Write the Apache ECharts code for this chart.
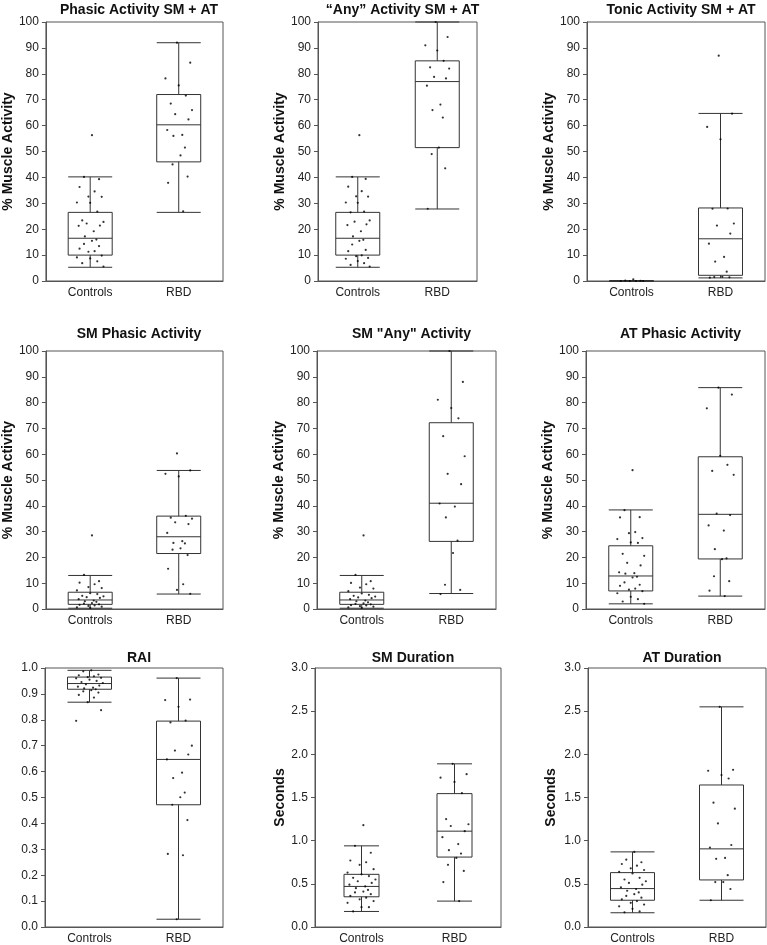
<!DOCTYPE html>
<html>
<head>
<meta charset="utf-8">
<script src="https://cdn.jsdelivr.net/npm/echarts@6/dist/echarts.min.js"></script>
<style>
html,body{margin:0;padding:0;background:#fff;}
#c{width:767px;height:945px;}
</style>
</head>
<body>
<div id="c"></div>
<script>
// ---------- DATA ----------
const categories = ['Controls', 'RBD'];

const titles = ['Phasic Activity SM + AT', '\u201cAny\u201d Activity SM + AT', 'Tonic Activity SM + AT',
  'SM Phasic Activity', 'SM "Any" Activity', 'AT Phasic Activity',
  'RAI', 'SM Duration', 'AT Duration'];
const yNames = ['% Muscle Activity', '% Muscle Activity', '% Muscle Activity',
  '% Muscle Activity', '% Muscle Activity', '% Muscle Activity',
  '', 'Seconds', 'Seconds'];
const yMax = [100, 100, 100, 100, 100, 100, 1.0, 3.0, 3.0];
const yInterval = [10, 10, 10, 10, 10, 10, 0.1, 0.5, 0.5];

// box stats: [min, Q1, median, Q3, max]
const box1Controls = [5.3, 10.0, 16.5, 26.5, 40.2];
const box1RBD = [26.5, 46.0, 60.3, 72.0, 92.0];
const box2Controls = [5.3, 10.0, 16.5, 26.5, 40.2];
const box2RBD = [27.8, 51.5, 77.0, 85.0, 100.0];
const box3Controls = [0, 0, 0, 0, 0];
const box3RBD = [1.2, 2.2, 16.3, 28.2, 64.7];
const box4Controls = [0.3, 1.8, 3.5, 6.5, 13.0];
const box4RBD = [5.8, 21.5, 28.0, 36.0, 53.7];
const box5Controls = [0.3, 1.8, 3.5, 6.5, 13.0];
const box5RBD = [6.0, 26.2, 41.0, 72.2, 100.0];
const box6Controls = [2.0, 7.0, 12.8, 24.5, 38.4];
const box6RBD = [5.0, 19.4, 36.7, 59.0, 85.8];
const box7Controls = [0.868, 0.918, 0.940, 0.965, 0.991];
const box7RBD = [0.030, 0.472, 0.647, 0.795, 0.961];
const box8Controls = [0.18, 0.35, 0.47, 0.61, 0.94];
const box8RBD = [0.30, 0.81, 1.11, 1.545, 1.89];
const box9Controls = [0.165, 0.31, 0.445, 0.63, 0.87];
const box9RBD = [0.31, 0.545, 0.905, 1.645, 2.55];

// individual subject values
const pts1Controls = [56.3, 40.2, 39.3, 36.3, 34.6, 32.6, 32.5, 30.3, 30.2, 26.8, 23.4, 22.8, 22.2, 21.4, 21.3, 19.2, 17.2, 16.0, 15.5, 14.3, 13.5, 12.5, 11.5, 11.3, 9.8, 9.1, 8.7, 7.6, 6.9, 5.6];
const pts1RBD = [92.0, 84.3, 78.2, 75.5, 71.6, 68.5, 66.0, 64.4, 62.4, 58.3, 56.4, 56.0, 51.5, 48.5, 45.0, 40.3, 37.9, 26.9];
const pts2Controls = [56.3, 40.2, 39.4, 36.4, 34.7, 32.7, 32.6, 30.3, 30.2, 26.8, 26.5, 23.4, 22.9, 21.9, 21.6, 19.2, 17.2, 15.9, 15.5, 14.1, 12.0, 11.5, 9.9, 9.6, 8.9, 8.6, 7.7, 6.9, 6.2, 5.6];
const pts2RBD = [100.0, 94.2, 91.0, 89.0, 85.0, 82.5, 82.0, 78.8, 78.2, 75.4, 68.1, 66.0, 63.1, 51.5, 49.0, 43.5, 27.9];
const pts3Controls = [0.6, 0.2, 0.1, 0, 0, 0, 0];
const pts3RBD = [87.0, 64.6, 59.5, 54.7, 28.0, 27.9, 22.2, 21.4, 18.3, 14.4, 9.3, 7.5, 3.6, 1.6, 1.5, 1.4, 1.3];
const pts4Controls = [28.5, 13.2, 10.8, 10.2, 9.6, 8.5, 8.1, 7.2, 6.1, 5.8, 5.1, 4.9, 4.6, 4.3, 3.8, 3.3, 3.0, 2.8, 2.3, 2.1, 1.8, 1.6, 1.4, 1.2, 0.9, 0.6, 0.4];
const pts4RBD = [60.3, 53.7, 52.4, 51.4, 36.1, 35.4, 35.0, 33.6, 32.9, 29.5, 26.3, 25.6, 25.4, 23.5, 23.0, 20.9, 15.6, 9.6, 7.4, 5.9];
const pts5Controls = [28.5, 13.2, 10.8, 10.1, 9.6, 8.3, 7.9, 6.9, 6.0, 5.5, 5.1, 4.8, 4.5, 4.2, 3.8, 3.3, 3.0, 2.6, 2.2, 2.0, 1.8, 1.5, 1.4, 1.1, 0.9, 0.6, 0.4];
const pts5RBD = [100.0, 88.0, 81.1, 77.9, 73.9, 67.0, 59.2, 52.4, 48.4, 40.9, 39.7, 35.5, 26.5, 21.7, 9.4, 7.4, 5.8];
const pts6Controls = [53.8, 38.3, 35.6, 35.5, 29.8, 29.4, 27.5, 27.1, 25.8, 25.6, 21.4, 20.6, 17.9, 16.9, 14.2, 13.9, 13.7, 12.5, 12.2, 10.3, 9.4, 9.0, 7.9, 7.5, 6.9, 6.1, 4.7, 3.8, 2.9, 2.0];
const pts6RBD = [85.8, 83.1, 77.8, 59.4, 55.9, 53.5, 52.0, 37.0, 36.4, 32.4, 30.4, 23.2, 19.6, 19.3, 12.7, 10.8, 7.1, 5.0];
const pts7Controls = [0.991, 0.987, 0.975, 0.972, 0.968, 0.965, 0.962, 0.960, 0.955, 0.950, 0.946, 0.942, 0.937, 0.932, 0.928, 0.924, 0.921, 0.918, 0.914, 0.910, 0.905, 0.896, 0.886, 0.868, 0.837, 0.796];
const pts7RBD = [0.961, 0.878, 0.876, 0.850, 0.797, 0.790, 0.700, 0.681, 0.666, 0.647, 0.596, 0.575, 0.519, 0.501, 0.472, 0.413, 0.282, 0.277, 0.030];
const pts8Controls = [1.18, 0.94, 0.86, 0.77, 0.75, 0.72, 0.67, 0.63, 0.61, 0.59, 0.57, 0.55, 0.53, 0.51, 0.49, 0.47, 0.45, 0.43, 0.41, 0.40, 0.38, 0.36, 0.34, 0.32, 0.30, 0.28, 0.23, 0.23, 0.18];
const pts8RBD = [1.89, 1.77, 1.73, 1.68, 1.55, 1.25, 1.19, 1.17, 1.11, 1.04, 0.96, 0.89, 0.85, 0.80, 0.72, 0.65, 0.52, 0.30];
const pts9Controls = [0.87, 0.78, 0.75, 0.73, 0.71, 0.68, 0.66, 0.64, 0.62, 0.57, 0.55, 0.53, 0.51, 0.49, 0.46, 0.44, 0.42, 0.40, 0.38, 0.36, 0.34, 0.32, 0.30, 0.28, 0.26, 0.24, 0.21, 0.18, 0.17];
const pts9RBD = [2.55, 1.82, 1.81, 1.76, 1.72, 1.44, 1.37, 1.20, 0.95, 0.92, 0.80, 0.79, 0.60, 0.52, 0.52, 0.44, 0.31];

// ---------- LAYOUT / STYLE ----------
const boxes = [[box1Controls, box1RBD], [box2Controls, box2RBD], [box3Controls, box3RBD],
  [box4Controls, box4RBD], [box5Controls, box5RBD], [box6Controls, box6RBD],
  [box7Controls, box7RBD], [box8Controls, box8RBD], [box9Controls, box9RBD]];
const points = [[pts1Controls, pts1RBD], [pts2Controls, pts2RBD], [pts3Controls, pts3RBD],
  [pts4Controls, pts4RBD], [pts5Controls, pts5RBD], [pts6Controls, pts6RBD],
  [pts7Controls, pts7RBD], [pts8Controls, pts8RBD], [pts9Controls, pts9RBD]];

// grid rectangles [left, top, right, bottom]
const rects = [
  [45, 22, 223, 281], [318, 22, 477, 281], [587, 22, 765, 281],
  [45, 351, 223, 609], [317, 351, 496, 609], [586, 351, 765, 609],
  [45, 668, 223, 927], [315, 668, 501, 927], [588, 668, 766, 927]
];
const boxW = [44, 44, 44, 44, 44, 44, 44, 35, 44];
const titleTop = [-2, -2, -2, 322, 322, 322, 646, 646, 646];
const nameGaps = [25, 24, 29, 25, 24, 28, 25, 24, 30];
// fixed jitter pattern (category units) for visual spreading of dots
const JITTER = [0.02, -0.07, 0.10, -0.12, 0.05, -0.02, 0.13, -0.15, 0.00, 0.08, -0.09, 0.15, -0.04, 0.11, -0.13, 0.04, -0.06, 0.07];

const FONT = '"Liberation Sans", Arial, sans-serif';
const LINE = '#555';

const grid = [], xAxis = [], yAxis = [], series = [], title = [];
for (let i = 0; i < 9; i++) {
  const [l, t, r, b] = rects[i];
  grid.push({left: l, top: t, width: r - l, height: b - t, show: true,
    borderColor: LINE, borderWidth: 1, backgroundColor: 'transparent'});
  title.push({text: titles[i], left: (l + r) / 2, top: titleTop[i], textAlign: 'center',
    textStyle: {fontFamily: FONT, fontWeight: 'bold', fontSize: 14, color: '#111'}});
  xAxis.push({type: 'category', gridIndex: i, data: categories, boundaryGap: true,
    axisLine: {show: true, onZero: false, lineStyle: {color: LINE, width: 1}},
    axisTick: {show: false}, splitLine: {show: false},
    axisLabel: {fontFamily: FONT, fontSize: 12, color: '#222', margin: 6}});
  xAxis.push({type: 'value', gridIndex: i, min: -0.5, max: 1.5, show: false});
  const dec = yInterval[i] < 1 ? 1 : 0;
  yAxis.push({type: 'value', gridIndex: i, min: 0, max: yMax[i], interval: yInterval[i],
    name: yNames[i], nameLocation: 'middle', nameGap: nameGaps[i],
    nameTextStyle: {fontFamily: FONT, fontWeight: 'bold', fontSize: 14, color: '#111'},
    axisLine: {show: true, onZero: false, lineStyle: {color: LINE, width: 1}},
    axisTick: {show: true, inside: false, length: 4, lineStyle: {color: LINE}},
    splitLine: {show: false},
    axisLabel: {fontFamily: FONT, fontSize: 12, color: '#222', margin: 7,
      formatter: v => dec ? v.toFixed(1) : String(v)}});
  series.push({type: 'boxplot', xAxisIndex: 2 * i, yAxisIndex: i,
    data: boxes[i], boxWidth: [boxW[i], boxW[i]], silent: true, animation: false,
    itemStyle: {color: '#fff', borderColor: '#333', borderWidth: 1}});
  const pd = [];
  points[i].forEach((arr, g) => {
    arr.forEach((v, k) => { pd.push([g + JITTER[(k + g * 5) % JITTER.length], v]); });
  });
  series.push({type: 'scatter', xAxisIndex: 2 * i + 1, yAxisIndex: i, data: pd,
    symbol: 'circle', symbolSize: 2.2, silent: true, animation: false,
    itemStyle: {color: '#000'}, z: 5});
}

const chart = echarts.init(document.getElementById('c'), null, {renderer: 'canvas'});
chart.setOption({backgroundColor: '#fff', animation: false, title, grid, xAxis, yAxis, series});
</script>
</body>
</html>
